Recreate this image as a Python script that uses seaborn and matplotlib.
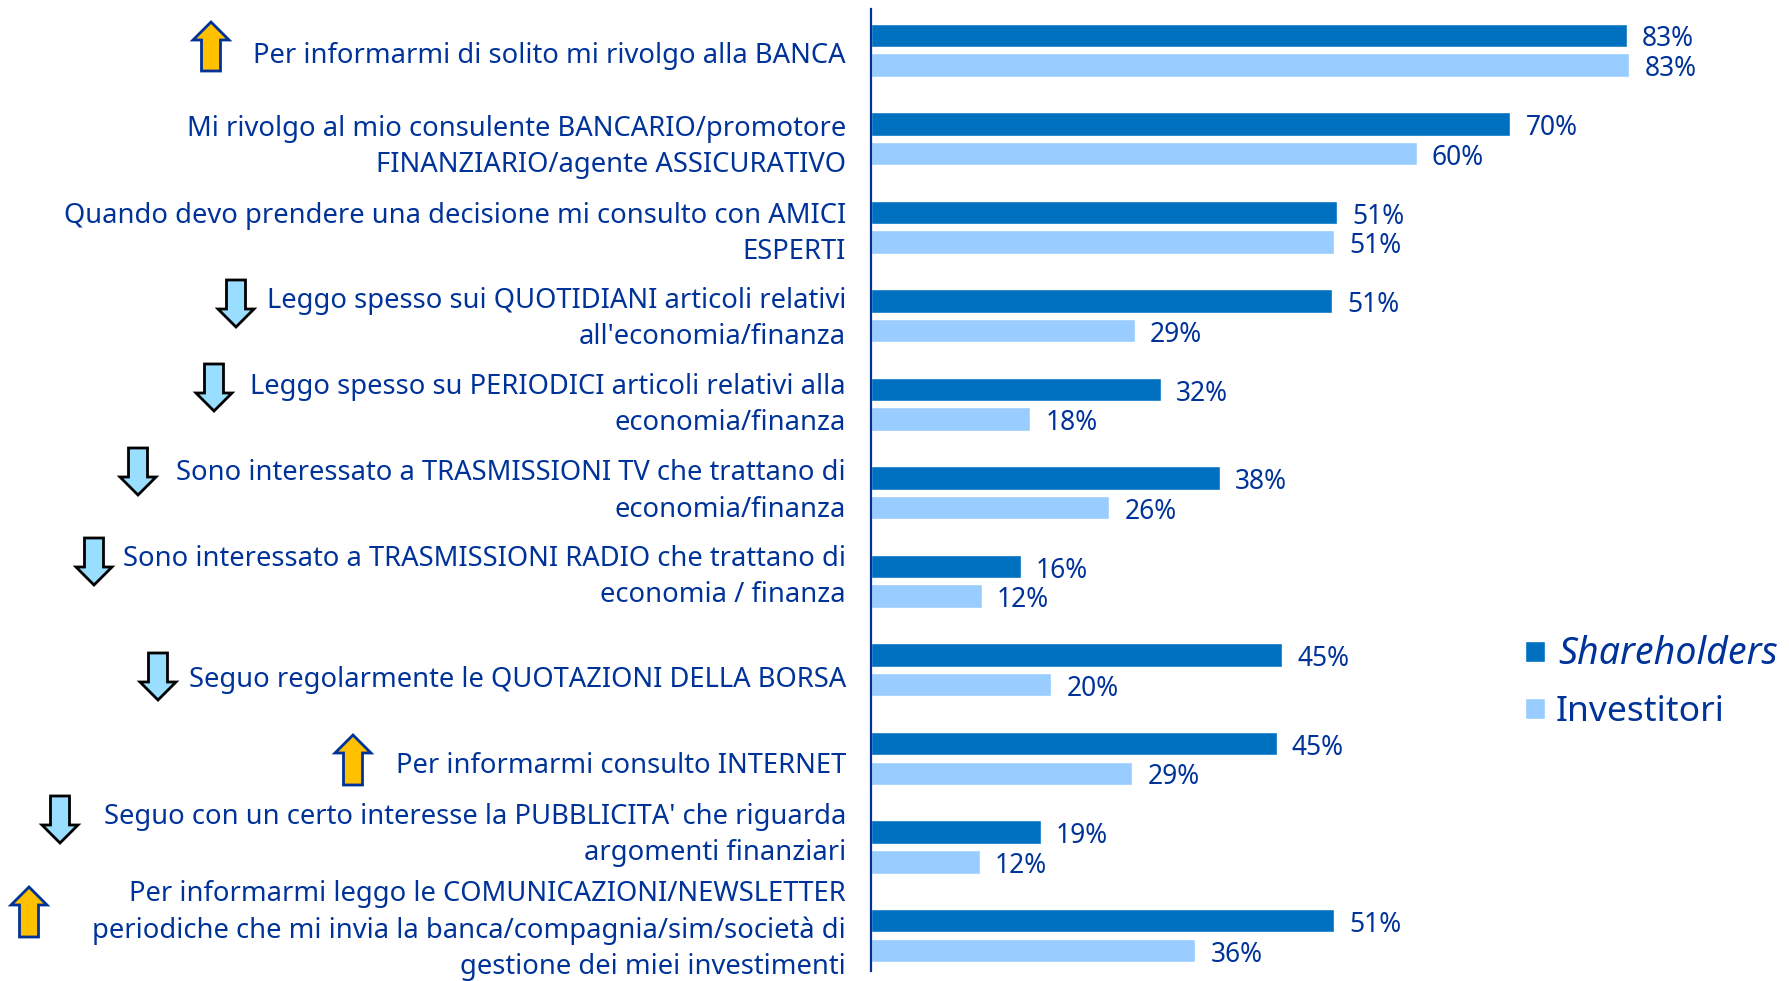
import matplotlib
matplotlib.use("Agg")
import matplotlib.pyplot as plt
import seaborn as sns
import pandas as pd
from matplotlib.patches import FancyArrow
from matplotlib.transforms import ScaledTranslation, IdentityTransform

categories = [
    "Per informarmi di solito mi rivolgo alla BANCA",
    "Mi rivolgo al mio consulente BANCARIO/promotore\nFINANZIARIO/agente ASSICURATIVO",
    "Quando devo prendere una decisione mi consulto con AMICI\nESPERTI",
    "Leggo spesso sui QUOTIDIANI articoli relativi\nall'economia/finanza",
    "Leggo spesso su PERIODICI articoli relativi alla\neconomia/finanza",
    "Sono interessato a TRASMISSIONI TV che trattano di\neconomia/finanza",
    "Sono interessato a TRASMISSIONI RADIO che trattano di\neconomia / finanza",
    "Seguo regolarmente le QUOTAZIONI DELLA BORSA",
    "Per informarmi consulto INTERNET",
    "Seguo con un certo interesse la PUBBLICITA' che riguarda\nargomenti finanziari",
    "Per informarmi leggo le COMUNICAZIONI/NEWSLETTER\nperiodiche che mi invia la banca/compagnia/sim/società di\ngestione dei miei investimenti",
]
# bar lengths, printed labels are the rounded ones
shareholders = [82.75, 70, 51, 50.5, 31.75, 38.2, 16.4, 45, 44.4, 18.6, 50.7]
investitori = [83, 59.75, 50.7, 28.9, 17.4, 26.1, 12.1, 19.75, 28.6, 11.9, 35.5]
shareholders_labels = ["83%", "70%", "51%", "51%", "32%", "38%", "16%", "45%", "45%", "19%", "51%"]
investitori_labels = ["83%", "60%", "51%", "29%", "18%", "26%", "12%", "20%", "29%", "12%", "36%"]

# layout only: label shift in px (up is positive)
label_shift = [-2, -1, 1, 4, 7, 9, 12, -7, -4, 20, 13]
# arrows in reference px: centre x, top y, bottom y, direction
arrows = [
    (211, 22, 71, "up"),
    (236, 280, 327, "down"),
    (214, 364, 411, "down"),
    (138, 448, 495, "down"),
    (94, 538, 585, "down"),
    (158, 653, 700, "down"),
    (353, 735, 785, "up"),
    (60, 796, 843, "down"),
    (29, 887, 937, "up"),
]

W, H = 1790, 981
DARK = "#0070C0"
LIGHT = "#99CCFF"
TEXT = "#003399"

sns.set_theme(style="white")
plt.rcParams["font.family"] = ["Noto Sans", "DejaVu Sans"]

df = pd.DataFrame({
    "categoria": categories * 2,
    "valore": shareholders + investitori,
    "serie": ["Shareholders"] * len(categories) + ["Investitori"] * len(categories),
})

fig = plt.figure(figsize=(W / 100, H / 100), dpi=100)
ax = fig.add_axes([871 / W, 1 - 971 / H, (W - 871) / W, (971 - 9) / H])

sns.barplot(data=df, y="categoria", x="valore", hue="serie", order=categories,
            hue_order=["Shareholders", "Investitori"],
            palette=[DARK, LIGHT], width=0.67, gap=0.21, saturation=1,
            errorbar=None, ax=ax)

ax.set_xlim(0, (W - 871) / 9.133)
ax.set_ylim(10.4, -0.464)
ax.set_xlabel("")
ax.set_ylabel("")
ax.xaxis.set_visible(False)
sns.despine(ax=ax, top=True, right=True, bottom=True)
ax.spines["left"].set_color(TEXT)
ax.spines["left"].set_linewidth(1.6)

ax.tick_params(axis="y", length=0, pad=18, labelsize=19.7, labelcolor=TEXT)
for lab, shift in zip(ax.get_yticklabels(), label_shift):
    lab.set_multialignment("right")
    lab.set_linespacing(1.39)
    lab.set_transform(lab.get_transform() + ScaledTranslation(0, shift / 100, fig.dpi_scale_trans))

for cont, labs in zip(ax.containers, [shareholders_labels, investitori_labels]):
    for ann in ax.bar_label(cont, labels=labs, padding=11, fontsize=19, color=TEXT):
        ann.xyann = (11, -3)

# legend
handles, names = ax.get_legend_handles_labels()
leg = ax.legend(handles, names, loc="upper left", bbox_to_anchor=(1525 / W, 1 - 635 / H),
                bbox_transform=fig.transFigure, frameon=False, fontsize=25.5,
                handlelength=0.56, handleheight=0.56, handletextpad=0.38,
                labelspacing=0.62, borderpad=0, borderaxespad=0)
for t in leg.get_texts():
    t.set_color(TEXT)
leg.get_texts()[0].set_style("italic")
leg.get_texts()[0].set_fontsize(27)
leg.get_texts()[1].set_x(-3)

# up / down arrows next to the labels
for cx, top, bottom, way in arrows:
    face, edge = ("#FFC000", TEXT) if way == "up" else ("#99DDFF", "black")
    start, end = (H - bottom, H - top) if way == "up" else (H - top, H - bottom)
    fig.add_artist(FancyArrow(cx, start, 0, end - start, width=19, head_width=36,
                              head_length=18, length_includes_head=True,
                              facecolor=face, edgecolor=edge, linewidth=2,
                              transform=IdentityTransform()))

fig.savefig("out.png", dpi=100)
